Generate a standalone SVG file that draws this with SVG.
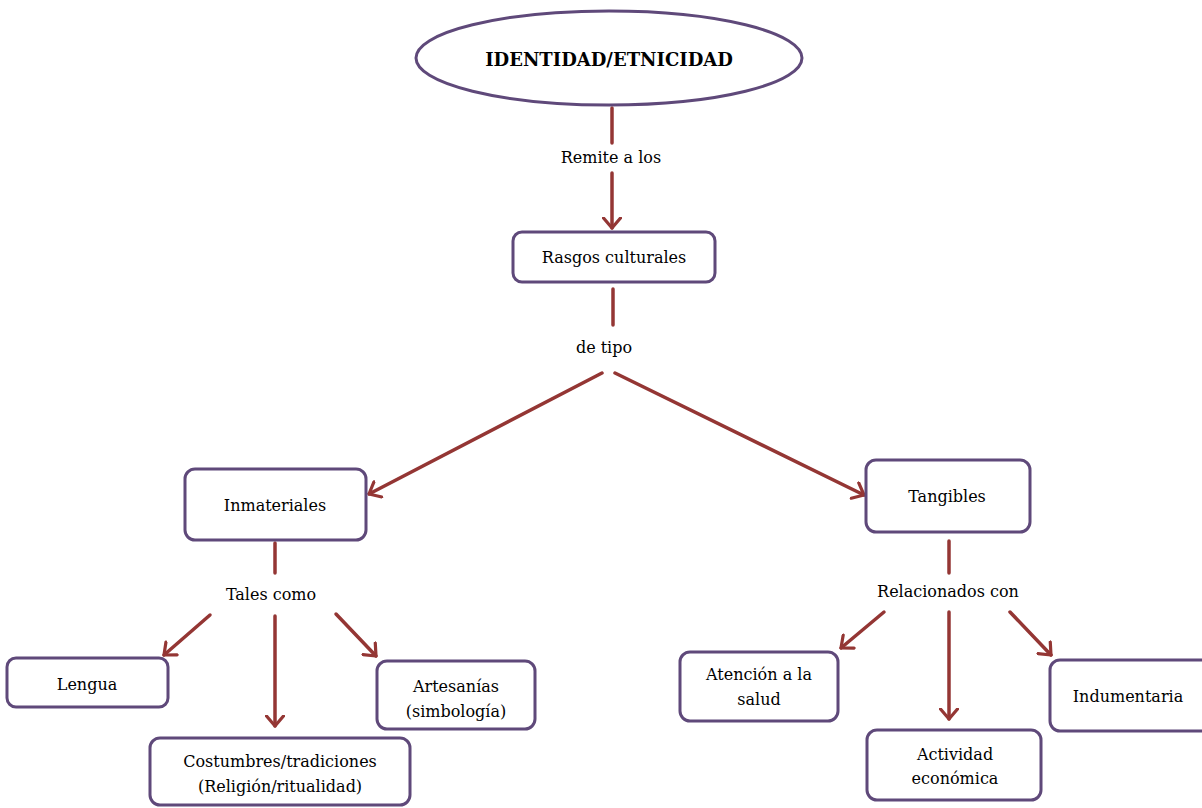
<svg xmlns="http://www.w3.org/2000/svg" width="1202" height="808" viewBox="0 0 1202 808">
<defs>
<style>
.box{fill:#fff;stroke:#5f497a;stroke-width:3}
.t{font-family:"DejaVu Serif","Liberation Serif",serif;font-size:16px;fill:#000;text-anchor:middle}
.tb{font-family:"DejaVu Serif","Liberation Serif",serif;font-size:18px;font-weight:bold;fill:#000;text-anchor:middle}
.c{stroke:#943634;stroke-width:3.5;fill:none;stroke-linecap:round}
.a{marker-end:url(#ah)}
</style>
<marker id="ah" viewBox="0 0 13 20" refX="11.5" refY="10" markerWidth="13" markerHeight="20" markerUnits="userSpaceOnUse" orient="auto">
<path d="M1.5,1.5 L11.5,10 L1.5,18.5" fill="none" stroke="#943634" stroke-width="3.2" stroke-linecap="round" stroke-linejoin="round"/>
</marker>
</defs>
<rect width="1202" height="808" fill="#fff"/>
<g id="connectors">
<line class="c" x1="612" y1="108" x2="612" y2="143"/>
<line class="c a" x1="612" y1="173" x2="612" y2="228"/>
<line class="c" x1="613" y1="289" x2="613" y2="325"/>
<line class="c a" x1="602" y1="373" x2="369" y2="494"/>
<line class="c a" x1="615" y1="373" x2="864" y2="495"/>
<line class="c" x1="275" y1="543" x2="275" y2="573"/>
<line class="c a" x1="210" y1="615" x2="164" y2="655"/>
<line class="c a" x1="275" y1="616" x2="275" y2="726"/>
<line class="c a" x1="336" y1="614" x2="376" y2="656"/>
<line class="c" x1="949" y1="541" x2="949" y2="573"/>
<line class="c a" x1="884" y1="612" x2="841" y2="648"/>
<line class="c a" x1="949" y1="612" x2="949" y2="719"/>
<line class="c a" x1="1010" y1="612" x2="1051" y2="655"/>
<text class="t" x="611" y="163">Remite a los</text>
<text class="t" x="604" y="353">de tipo</text>
<text class="t" x="271" y="600">Tales como</text>
<text class="t" x="948" y="597">Relacionados con</text>
</g>
<g id="identidad">
<ellipse cx="609" cy="58" rx="193" ry="47" fill="#fff" stroke="#5f497a" stroke-width="3"/>
<text class="tb" x="609" y="66">IDENTIDAD/ETNICIDAD</text>
</g>
<g id="rasgos">
<rect class="box" x="513" y="232" width="202" height="50" rx="9"/>
<text class="t" x="614" y="263">Rasgos culturales</text>
</g>
<g id="inmateriales">
<rect class="box" x="185" y="469" width="181" height="71" rx="10"/>
<text class="t" x="275" y="511">Inmateriales</text>
</g>
<g id="tangibles">
<rect class="box" x="866" y="460" width="164" height="72" rx="10"/>
<text class="t" x="947" y="502">Tangibles</text>
</g>
<g id="lengua">
<rect class="box" x="7" y="658" width="161" height="49" rx="9"/>
<text class="t" x="87" y="690">Lengua</text>
</g>
<g id="artesanias">
<rect class="box" x="377" y="661" width="158" height="68" rx="10"/>
<text class="t" x="456" y="692">Artesanías</text>
<text class="t" x="456" y="717">(simbología)</text>
</g>
<g id="costumbres">
<rect class="box" x="150" y="738" width="260" height="67" rx="10"/>
<text class="t" x="280" y="767">Costumbres/tradiciones</text>
<text class="t" x="280" y="792">(Religión/ritualidad)</text>
</g>
<g id="atencion">
<rect class="box" x="680" y="652" width="158" height="69" rx="10"/>
<text class="t" x="759" y="680">Atención a la</text>
<text class="t" x="759" y="705">salud</text>
</g>
<g id="actividad">
<rect class="box" x="867" y="730" width="174" height="70" rx="10"/>
<text class="t" x="955" y="760">Actividad</text>
<text class="t" x="955" y="784">económica</text>
</g>
<g id="indumentaria">
<rect class="box" x="1050" y="660" width="165" height="71" rx="10"/>
<text class="t" x="1128" y="702">Indumentaria</text>
</g>
</svg>
